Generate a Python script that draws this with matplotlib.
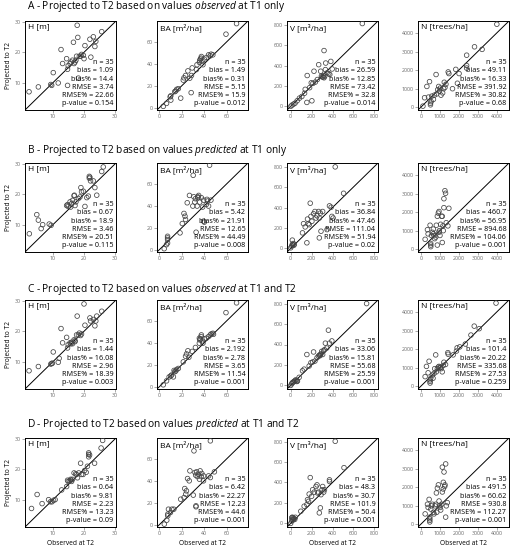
import matplotlib
matplotlib.use("Agg")
import matplotlib.pyplot as plt

plt.rcParams["font.family"] = ["Open Sans", "DejaVu Sans"]
plt.rcParams["mathtext.fontset"] = "custom"
plt.rcParams["mathtext.rm"] = "Open Sans"
plt.rcParams["mathtext.it"] = "Open Sans:italic"

A_H_x = [2.3, 5.3, 9.6, 9.3, 10.1, 11.7, 12.6, 13.1, 14.4, 14.7, 14.9, 14.7, 15.5, 15.8, 16.3, 16.6, 16.8, 17.1,
         17.4, 17.6, 17.8, 18.0, 18.2, 18.5, 18.9, 19.2, 19.8, 20.0, 20.3, 21.9, 22.2, 23.0, 23.5, 23.8, 25.7]
A_H_y = [7.0, 8.6, 9.1, 9.4, 13.3, 9.9, 20.9, 16.3, 17.9, 14.4, 15.6, 9.1, 16.3, 16.8, 17.4, 23.3, 16.3, 16.8,
         17.4, 18.7, 28.9, 24.9, 11.5, 18.7, 18.7, 19.3, 19.0, 17.9, 22.2, 24.3, 18.4, 25.1, 21.9, 23.6, 26.8]
A_BA_x = [3.6, 6.5, 10.3, 9.7, 10.3, 13.8, 14.7, 15.5, 17.0, 19.1, 21.4, 22.0, 23.4, 25.5, 27.2, 28.7, 29.3, 28.4,
          33.1, 33.6, 35.7, 36.0, 36.6, 37.2, 37.5, 38.1, 38.9, 40.1, 41.9, 43.9, 45.4, 46.2, 47.7, 59.4, 68.8]
A_BA_y = [1.3, 4.0, 7.0, 10.0, 10.9, 14.7, 15.3, 16.8, 17.4, 8.8, 25.2, 27.3, 29.4, 33.6, 27.0, 29.4, 36.3, 13.8,
          34.8, 39.2, 41.3, 43.1, 44.3, 45.2, 46.7, 42.2, 39.2, 44.3, 45.8, 48.2, 47.3, 48.8, 48.2, 67.0, 76.6]
A_V_x = [2, 13, 29, 42, 62, 84, 107, 133, 139, 155, 158, 181, 197, 203, 213, 223, 236, 255, 268, 287, 294, 300,
         310, 313, 319, 319, 326, 332, 335, 348, 364, 374, 384, 397, 685]
A_V_y = [2, 13, 23, 32, 55, 81, 97, 129, 167, 39, 302, 183, 231, 55, 225, 344, 238, 263, 408, 344, 296, 289,
         286, 302, 280, 546, 296, 360, 424, 328, 321, 312, 440, 366, 810]
A_N_x = [110, 197, 318, 405, 457, 508, 508, 543, 578, 664, 716, 803, 838, 890, 942, 976, 1028, 1063, 1150, 1202,
         1236, 1271, 1323, 1444, 1479, 1670, 1843, 1929, 2016, 2415, 2415, 2415, 2831, 3230, 4009]
A_N_y = [59, 511, 1120, 546, 1380, 215, 128, 302, 598, 424, 650, 1763, 720, 946, 1120, 859, 1033, 650, 772, 998,
         1346, 1068, 1241, 1902, 1815, 998, 2041, 1293, 1815, 2250, 2111, 2806, 3258, 3119, 4476]

B_H_x = [2.4, 4.8, 5.3, 6.2, 6.7, 8.8, 9.4, 14.4, 14.7, 14.9, 15.5, 15.7, 16.0, 16.3, 16.8, 16.9, 17.1, 17.4,
         18.2, 18.7, 19.0, 19.2, 19.8, 20.3, 20.9, 21.4, 21.7, 21.9, 21.7, 22.1, 23.0, 23.5, 24.1, 25.7, 26.2]
B_H_y = [7.0, 13.3, 11.5, 8.7, 10.0, 10.2, 9.8, 16.3, 16.6, 16.0, 17.5, 15.8, 16.9, 18.0, 19.5, 19.7, 16.3, 17.5,
         18.6, 19.1, 22.2, 20.8, 21.0, 16.0, 18.9, 19.4, 25.9, 25.6, 25.3, 24.4, 24.4, 22.2, 19.7, 27.5, 29.0]
B_BA_x = [4.4, 6.5, 7.4, 7.4, 7.4, 7.4, 18.5, 20.5, 22.0, 22.9, 23.4, 24.9, 26.9, 29.9, 30.2, 30.8, 31.6, 32.2,
          32.8, 33.7, 34.3, 34.6, 35.1, 36.0, 37.5, 38.6, 39.5, 39.5, 40.1, 41.9, 42.5, 43.0, 43.9, 46.0, 44.8]
B_BA_y = [1.0, 4.7, 6.2, 9.3, 10.8, 12.3, 15.4, 23.9, 33.1, 30.6, 27.6, 42.8, 49.5, 39.8, 67.8, 48.3, 43.4, 46.5,
          16.0, 39.8, 48.3, 47.4, 49.5, 43.4, 47.4, 38.9, 26.1, 45.2, 25.2, 41.3, 45.9, 44.4, 39.8, 45.2, 77.0]
B_V_x = [0, 10, 16, 20, 25, 30, 35, 16, 113, 123, 139, 155, 161, 168, 177, 187, 194, 203, 219, 232, 242, 252,
         268, 274, 284, 290, 274, 306, 348, 371, 387, 394, 406, 426, 506]
B_V_y = [6, 23, 39, 35, 48, 30, 40, 81, 152, 242, 210, 55, 287, 242, 232, 442, 313, 265, 339, 361, 297, 319,
         361, 297, 345, 168, 103, 361, 184, 416, 403, 313, 297, 797, 539]
B_N_x = [226, 348, 487, 522, 522, 522, 557, 609, 661, 696, 783, 817, 870, 922, 957, 974, 1009, 1043, 1096, 1130,
         1130, 1165, 1183, 1217, 1217, 1270, 1304, 1339, 1426, 1478, 870, 730, 383, 661, 957]
B_N_y = [534, 1052, 1293, 310, 224, 138, 741, 914, 1086, 741, 655, 1293, 1776, 1948, 2034, 1000, 741, 1345, 1776,
         1776, 362, 1259, 1000, 2241, 2724, 3155, 3017, 1431, 1259, 2207, 224, 569, 828, 828, 914]

C_H_x = [2.3, 5.3, 9.3, 9.6, 9.8, 10.1, 11.7, 12.0, 12.6, 13.1, 14.4, 14.7, 14.9, 15.5, 15.8, 16.0, 16.3, 16.8,
         17.1, 17.6, 17.8, 18.2, 18.5, 18.9, 19.2, 20.0, 20.3, 21.9, 22.1, 23.0, 23.5, 23.8, 24.1, 25.7, 17.1]
C_H_y = [7.0, 8.4, 9.2, 9.4, 9.5, 13.2, 9.8, 11.1, 20.9, 16.2, 18.0, 14.5, 15.6, 16.2, 15.9, 16.4, 15.9, 17.2,
         16.6, 18.8, 25.0, 18.8, 19.4, 18.6, 19.1, 29.0, 22.0, 24.4, 23.4, 23.9, 21.8, 23.4, 25.0, 26.6, 16.9]
C_BA_x = [3.6, 6.5, 8.8, 10.3, 10.9, 12.6, 13.8, 14.7, 15.5, 17.0, 21.4, 23.4, 24.3, 25.5, 26.4, 29.3, 32.2, 35.7,
          36.0, 36.6, 37.2, 37.5, 38.1, 38.9, 40.1, 41.9, 43.9, 45.4, 46.2, 47.7, 48.3, 59.4, 68.8, 13.2, 35.7]
C_BA_y = [1.8, 5.4, 9.0, 9.9, 10.7, 9.0, 13.7, 14.3, 15.8, 16.7, 22.7, 27.8, 29.9, 32.8, 26.9, 32.2, 35.8, 39.7,
          42.7, 43.6, 45.7, 47.2, 41.8, 39.7, 43.6, 44.2, 45.7, 47.2, 48.1, 48.7, 47.8, 67.5, 76.4, 14.9, 44.2]
C_V_x = [0, 10, 23, 32, 48, 58, 60, 65, 81, 113, 129, 155, 177, 194, 210, 219, 232, 252, 265, 274, 284, 290,
         297, 306, 316, 323, 332, 345, 361, 371, 394, 726, 15, 40, 280]
C_V_y = [0, 16, 32, 38, 54, 38, 48, 42, 79, 143, 159, 302, 190, 222, 229, 327, 238, 270, 286, 295, 302, 308,
         333, 302, 340, 349, 413, 365, 540, 413, 435, 800, 25, 45, 290]
C_N_x = [226, 296, 435, 487, 487, 487, 522, 609, 643, 696, 783, 817, 870, 922, 957, 1009, 1078, 1130, 1183, 1217,
         1304, 1426, 1443, 1704, 1878, 1913, 2052, 2348, 2643, 2817, 3078, 3965, 383, 730, 1043]
C_N_y = [517, 1069, 1345, 259, 172, 345, 431, 603, 431, 690, 1690, 776, 948, 1034, 1069, 1000, 948, 776, 1121,
         1293, 1172, 1810, 1724, 1690, 1897, 2069, 2121, 2276, 2759, 3241, 3103, 4483, 724, 948, 1034]

D_H_x = [3.1, 4.9, 6.5, 8.6, 9.2, 9.7, 10.2, 10.7, 12.8, 14.4, 14.7, 14.9, 15.3, 15.7, 16.0, 16.3, 16.8, 17.3,
         17.6, 17.9, 18.3, 18.9, 19.2, 19.7, 20.2, 20.7, 21.1, 21.5, 21.5, 21.5, 21.8, 23.4, 25.5, 26.0, 15.8]
D_H_y = [7.1, 11.7, 8.7, 10.0, 9.3, 9.3, 9.8, 10.0, 13.2, 14.3, 16.4, 16.0, 16.2, 16.7, 16.0, 16.7, 18.8, 18.5,
         18.3, 17.2, 18.8, 22.0, 18.3, 18.3, 19.6, 19.0, 21.0, 25.4, 24.9, 24.1, 24.7, 22.0, 27.0, 29.5, 16.4]
D_BA_x = [4.5, 6.7, 7.6, 7.6, 8.2, 10.0, 11.2, 13.0, 19.1, 22.1, 22.7, 23.6, 24.2, 25.2, 26.7, 27.3, 30.3, 30.9,
          31.8, 32.4, 32.7, 32.7, 33.3, 33.9, 34.8, 35.8, 36.4, 37.3, 37.9, 39.4, 39.4, 43.9, 45.5, 49.1, 45.5]
D_BA_y = [0.6, 4.2, 8.2, 9.7, 14.2, 11.2, 14.2, 14.2, 23.3, 24.8, 33.0, 27.9, 30.9, 42.1, 40.0, 49.1, 27.0, 67.3,
          47.6, 45.2, 16.4, 17.3, 48.2, 43.9, 46.1, 41.5, 49.1, 43.9, 46.7, 40.0, 44.5, 44.5, 43.0, 48.2, 76.4]
D_V_x = [0, 10, 16, 16, 23, 32, 39, 10, 97, 129, 155, 161, 171, 177, 187, 200, 210, 226, 242, 252, 258, 265,
         274, 284, 290, 300, 306, 316, 323, 371, 371, 426, 510, 25, 45]
D_V_y = [0, 23, 39, 61, 55, 48, 39, 55, 119, 168, 184, 232, 216, 287, 448, 265, 329, 306, 361, 377, 297, 306,
         103, 152, 281, 329, 361, 306, 329, 426, 410, 803, 545, 35, 60]
D_N_x = [227, 349, 436, 471, 471, 471, 471, 524, 558, 611, 663, 750, 785, 820, 873, 925, 960, 1012, 1047, 1099,
         1134, 1134, 1187, 1222, 1257, 1274, 1309, 1309, 1344, 1396, 698, 838, 384, 1000, 1180]
D_N_y = [557, 1078, 1339, 296, 209, 122, 383, 817, 991, 1078, 643, 991, 1078, 1687, 1948, 2122, 1252, 904, 765,
         1078, 1739, 3078, 2261, 2817, 2035, 2122, 3252, 383, 991, 1165, 557, 643, 904, 1000, 1900]

# ---- statistics (bias, bias%, RMSE, RMSE%, p-value) ----
A_stats = [["1.09", "14.4", "3.74", "22.66", "0.154"], ["1.49", "0.31", "5.15", "15.9", "0.012"],
           ["26.59", "12.85", "73.42", "32.8", "0.014"], ["49.11", "16.33", "391.92", "30.82", "0.68"]]
B_stats = [["0.67", "18.9", "3.46", "20.51", "0.115"], ["5.42", "21.91", "12.65", "44.49", "0.008"],
           ["36.84", "47.46", "111.04", "51.94", "0.02"], ["460.7", "56.95", "894.68", "104.06", "0.001"]]
C_stats = [["1.44", "16.08", "2.96", "18.39", "0.003"], ["2.192", "2.78", "3.65", "11.54", "0.001"],
           ["33.06", "15.81", "55.68", "25.59", "0.001"], ["101.4", "20.22", "335.68", "27.53", "0.259"]]
D_stats = [["0.64", "9.81", "2.23", "13.23", "0.09"], ["6.42", "22.27", "12.23", "44.6", "0.001"],
           ["48.3", "30.7", "101.9", "50.4", "0.001"], ["491.5", "60.62", "930.8", "112.27", "0.001"]]

n_plots = 35
var_labels = ["H [m]", "BA [m²/ha]", "V [m³/ha]", "N [trees/ha]"]
var_lims = [(1, 30.3), (-2, 79), (-35, 835), (-150, 4650)]
var_ticks = [[10, 20, 30], [0, 20, 40, 60], [0, 200, 400, 600, 800], [0, 1000, 2000, 3000, 4000]]

row_titles = [
    r"A - Projected to T2 based on values $\mathit{observed}$ at T1 only",
    r"B - Projected to T2 based on values $\mathit{predicted}$ at T1 only",
    r"C - Projected to T2 based on values $\mathit{observed}$ at T1 and T2",
    r"D - Projected to T2 based on values $\mathit{predicted}$ at T1 and T2",
]

rows = [
    ([(A_H_x, A_H_y), (A_BA_x, A_BA_y), (A_V_x, A_V_y), (A_N_x, A_N_y)], A_stats),
    ([(B_H_x, B_H_y), (B_BA_x, B_BA_y), (B_V_x, B_V_y), (B_N_x, B_N_y)], B_stats),
    ([(C_H_x, C_H_y), (C_BA_x, C_BA_y), (C_V_x, C_V_y), (C_N_x, C_N_y)], C_stats),
    ([(D_H_x, D_H_y), (D_BA_x, D_BA_y), (D_V_x, D_V_y), (D_N_x, D_N_y)], D_stats),
]

# layout in pixels
W, H = 517, 550
col_left = [25, 157, 287, 418]
row_top = [21, 163, 300, 438]
title_y = [6, 150, 289, 425]
AX_W, AX_H = 91, 89


def draw_panel(ax, x, y, lim, ticks, label, stats):
    ax.scatter(x, y, s=11, facecolors="none", edgecolors="#444444", linewidths=0.55, zorder=3)
    ax.plot(lim, lim, color="black", lw=0.7, zorder=2)
    ax.set_xlim(lim)
    ax.set_ylim(lim)
    ax.set_xticks(ticks)
    ax.set_yticks(ticks)
    ax.tick_params(labelsize=3.8, labelcolor="#666666", color="#666666",
                   length=2, width=0.4, pad=1)
    for sp in ax.spines.values():
        sp.set_linewidth(0.7)
    ax.text(0.03, 0.97, label, transform=ax.transAxes, ha="left", va="top", fontsize=6)
    lines = [f"n = {n_plots}", f"bias = {stats[0]}", f"bias% = {stats[1]}",
             f"RMSE = {stats[2]}", f"RMSE% = {stats[3]}", f"p-value = {stats[4]}"]
    ax.text(0.97, 0.03, "\n".join(lines), transform=ax.transAxes, ha="right", va="bottom",
            fontsize=5.2, linespacing=1.25)


fig = plt.figure(figsize=(W / 100, H / 100), dpi=100)

for r, (panels, stats) in enumerate(rows):
    fig.text(27 / W, 1 - title_y[r] / H, row_titles[r], ha="left", va="center", fontsize=7.3)
    for c, (x, y) in enumerate(panels):
        ax = fig.add_axes([col_left[c] / W, 1 - (row_top[r] + AX_H) / H, AX_W / W, AX_H / H])
        draw_panel(ax, x, y, var_lims[c], var_ticks[c], var_labels[c], stats[c])
        if c == 0:
            ax.set_ylabel("Projected to T2", fontsize=4.8, labelpad=2)
        if r == 3:
            ax.set_xlabel("Observed at T2", fontsize=4.8, labelpad=3)

fig.savefig("out.png", dpi=100)
